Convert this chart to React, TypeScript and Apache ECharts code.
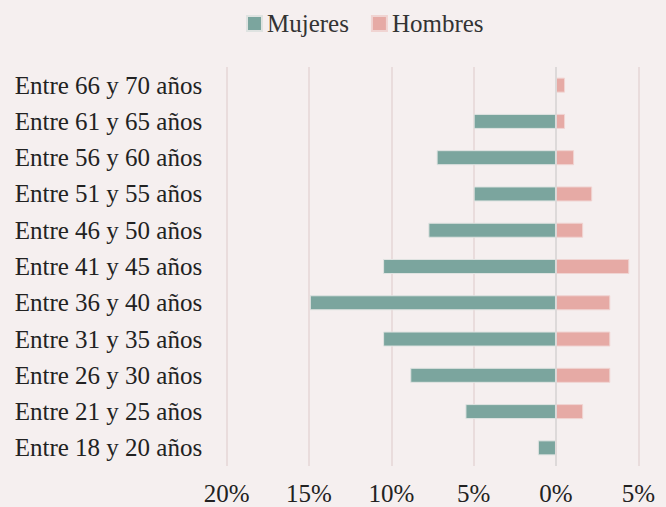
import React, { useEffect, useRef } from "react";
import * as echarts from "echarts";

const categories = [
  "Entre 18 y 20 años",
  "Entre 21 y 25 años",
  "Entre 26 y 30 años",
  "Entre 31 y 35 años",
  "Entre 36 y 40 años",
  "Entre 41 y 45 años",
  "Entre 46 y 50 años",
  "Entre 51 y 55 años",
  "Entre 56 y 60 años",
  "Entre 61 y 65 años",
  "Entre 66 y 70 años",
];
// percentages (Mujeres shown to the left)
const mujeres = [1.1, 5.5, 8.85, 10.5, 14.95, 10.5, 7.75, 5.0, 7.25, 5.0, 0];
const hombres = [0, 1.65, 3.3, 3.3, 3.3, 4.45, 1.65, 2.2, 1.1, 0.55, 0.55];
const xTicks = [-20, -15, -10, -5, 0, 5];

const FONT = "'Liberation Serif', 'Times New Roman', serif";

export default function App() {
  const ref = useRef<HTMLDivElement>(null);
  useEffect(() => {
    if (!ref.current) return;
    const chart = echarts.init(ref.current, undefined, { renderer: "svg" });
    chart.setOption({
      animation: false,
      backgroundColor: "#f5efef",
      legend: {
        data: ["Mujeres", "Hombres"],
        left: 241,
        top: 6,
        itemWidth: 15,
        itemHeight: 15,
        itemGap: 22,
        icon: "rect",
        textStyle: { fontFamily: FONT, fontSize: 25, color: "#333" },
      },
      grid: { left: 226.7, right: 27.7, top: 67, bottom: 41, containLabel: false },
      xAxis: {
        type: "value",
        min: xTicks[0],
        max: xTicks[xTicks.length - 1],
        interval: 5,
        axisLine: { show: false },
        axisTick: { show: false },
        splitLine: {
          show: true,
          lineStyle: { color: "#e5d6d6", width: 1.5 },
        },
        axisLabel: {
          margin: 15,
          fontFamily: FONT,
          fontSize: 25,
          color: "#222",
          formatter: (v: number) => Math.abs(v) + "%",
        },
      },
      yAxis: {
        type: "category",
        data: categories,
        axisLine: { show: false },
        axisTick: { show: false },
        axisLabel: {
          align: "left",
          margin: 212,
          fontFamily: FONT,
          fontSize: 25,
          color: "#222",
        },
      },
      series: [
        {
          name: "Mujeres",
          type: "bar",
          data: mujeres.map((v) => -v),
          barWidth: 15,
          barGap: "-100%",
          itemStyle: { color: "#7ba59e", borderColor: "#dfe3e1", borderWidth: 1 },
          markLine: {
            silent: true,
            symbol: "none",
            label: { show: false },
            lineStyle: { color: "#d9d9d9", width: 1.5, type: "solid" },
            data: [{ xAxis: 0 }],
          },
        },
        {
          name: "Hombres",
          type: "bar",
          data: hombres,
          barWidth: 15,
          itemStyle: { color: "#e6aaa5", borderColor: "#f0d4d2", borderWidth: 1 },
        },
      ],
    });
    return () => chart.dispose();
  }, []);
  return (
    <div
      ref={ref}
      style={{ position: "fixed", left: 0, top: 0, width: 666, height: 507 }}
    />
  );
}
